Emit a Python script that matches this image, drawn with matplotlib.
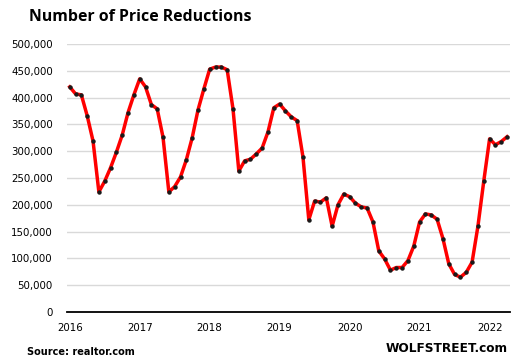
import matplotlib
matplotlib.use("Agg")
import matplotlib.pyplot as plt
from matplotlib.ticker import FuncFormatter

title = "Number of Price Reductions"
source = "Source: realtor.com"
brand = "WOLFSTREET.com"
year_labels = ["2016", "2017", "2018", "2019", "2020", "2021", "2022"]
# Monthly values, Jan 2016 - Apr 2022
reductions = [
    420000, 407000, 405000, 366000, 319000, 224000, 244000, 269000, 298000, 330000, 372000, 405000,
    435000, 420000, 387000, 379000, 326000, 224000, 234000, 252000, 284000, 325000, 377000, 416000,
    453000, 457000, 457000, 452000, 379000, 263000, 282000, 285000, 295000, 306000, 336000, 381000,
    388000, 375000, 364000, 357000, 289000, 172000, 207000, 205000, 213000, 160000, 200000, 220000,
    215000, 203000, 196000, 194000, 168000, 114000, 99000, 78000, 83000, 83000, 96000, 123000,
    168000, 183000, 181000, 173000, 137000, 90000, 70000, 65000, 74000, 93000, 160000, 244000,
    323000, 312000, 318000, 327000,
]
y_ticks = [0, 50000, 100000, 150000, 200000, 250000, 300000, 350000, 400000, 450000, 500000]

fig = plt.figure(figsize=(5.16, 3.64), dpi=100)
ax = fig.add_axes([66.8 / 516, 1 - 312 / 364, (510 - 66.8) / 516, (312 - 44) / 364])

x = list(range(len(reductions)))
ax.plot(x, reductions, color="#ff0000", lw=2.5, zorder=3, solid_joinstyle="round")
ax.plot(x, reductions, ls="none", marker="o", ms=2.2, color="#1a1a1a", zorder=4)

ax.set_xlim(-0.5, len(reductions) - 0.5)
ax.set_ylim(0, 500000)
ax.set_yticks(y_ticks)
ax.yaxis.set_major_formatter(FuncFormatter(lambda v, p: f"{int(v):,}"))
ax.set_xticks([12 * i for i in range(len(year_labels))])
ax.set_xticklabels(year_labels)
ax.grid(axis="y", color="#d9d9d9", lw=1.0, zorder=0)
ax.set_axisbelow(True)
for s in ["top", "right", "left"]:
    ax.spines[s].set_visible(False)
ax.spines["bottom"].set_color("black")
ax.spines["bottom"].set_linewidth(1.3)
ax.spines["bottom"].set_zorder(5)
ax.tick_params(axis="both", length=0, labelsize=7.4, colors="black")
ax.tick_params(axis="y", pad=10)
ax.tick_params(axis="x", pad=8)

fig.text(29 / 516, 1 - 17 / 364, title, fontsize=11.4, fontweight="bold",
         family="Open Sans", va="center", ha="left")
fig.text(27 / 516, 1 - 352 / 364, source, fontsize=7.0, fontweight="bold",
         family="DejaVu Sans", va="center", ha="left")
fig.text(508 / 516, 1 - 349 / 364, brand, fontsize=8.7, fontweight="bold",
         family="DejaVu Sans", va="center", ha="right")

fig.savefig("out.png", dpi=100)
